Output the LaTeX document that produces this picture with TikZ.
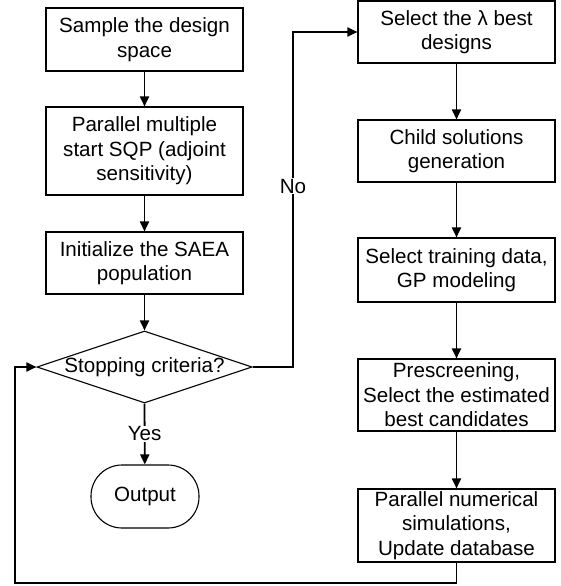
\documentclass[tikz,border=0pt]{standalone}
\usepackage{fontspec}
\setmainfont{Liberation Sans}
\usetikzlibrary{shapes.geometric,arrows.meta}
\begin{document}
\begin{tikzpicture}[x=1pt,y=-1pt,
  every node/.style={font=\fontsize{20.6}{24.5}\selectfont, align=center, inner sep=0pt},
  procbox/.style={draw, line width=1.1pt, minimum width=197pt},
  decbox/.style={draw, diamond, line width=1.1pt, minimum width=215pt, minimum height=72pt},
  termbox/.style={draw, line width=1.1pt, minimum width=108pt, minimum height=63pt, rounded corners=31pt},
  conn/.style={line width=1.8pt, -{Triangle[length=10pt,width=9pt]}},
  lbl/.style={fill=white, inner sep=1pt}]
\useasboundingbox (0,0) rectangle (561,586);
% left column
\node[procbox, minimum height=63pt] (b1) at (144.5,39.5) {Sample the design\\space};
\node[procbox, minimum height=88pt] (b2) at (144.5,151) {Parallel multiple\\start SQP (adjoint\\sensitivity)};
\node[procbox, minimum height=62pt] (b3) at (144.5,263) {Initialize the SAEA\\population};
\node[decbox] (d) at (144.5,367) {};
\node (dt) at (144.5,367) {Stopping criteria?};
\node[termbox] (out) at (145,496.5) {Output};
% right column
\node[procbox, minimum height=62pt] (r1) at (456.5,32) {Select the λ best\\designs};
\node[procbox, minimum height=62pt] (r2) at (456.5,151) {Child solutions\\generation};
\node[procbox, minimum height=64pt] (r3) at (456.5,270) {Select training data,\\GP modeling};
\node[procbox, minimum height=72pt] (r4) at (456.5,395) {Prescreening,\\Select the estimated\\best candidates};
\node[procbox, minimum height=73pt] (r5) at (456.5,525.5) {Parallel numerical\\simulations,\\Update database};
% connectors
\coordinate (nc) at (293,367);
\coordinate (lb) at (15,583);
\draw[conn] (b1) -- (b2);
\draw[conn] (b2) -- (b3);
\draw[conn] (b3) -- (d.north);
\draw[conn] (d.south) -- node[lbl] {Yes} (out);
\draw[conn] (d.east) -- (nc) |- node[lbl, pos=0.27] {No} (r1.west);
\draw[conn] (r1) -- (r2);
\draw[conn] (r2) -- (r3);
\draw[conn] (r3) -- (r4);
\draw[conn] (r4) -- (r5);
\draw[conn] (r5.south) |- (lb) |- (d.west);
\end{tikzpicture}
\end{document}
